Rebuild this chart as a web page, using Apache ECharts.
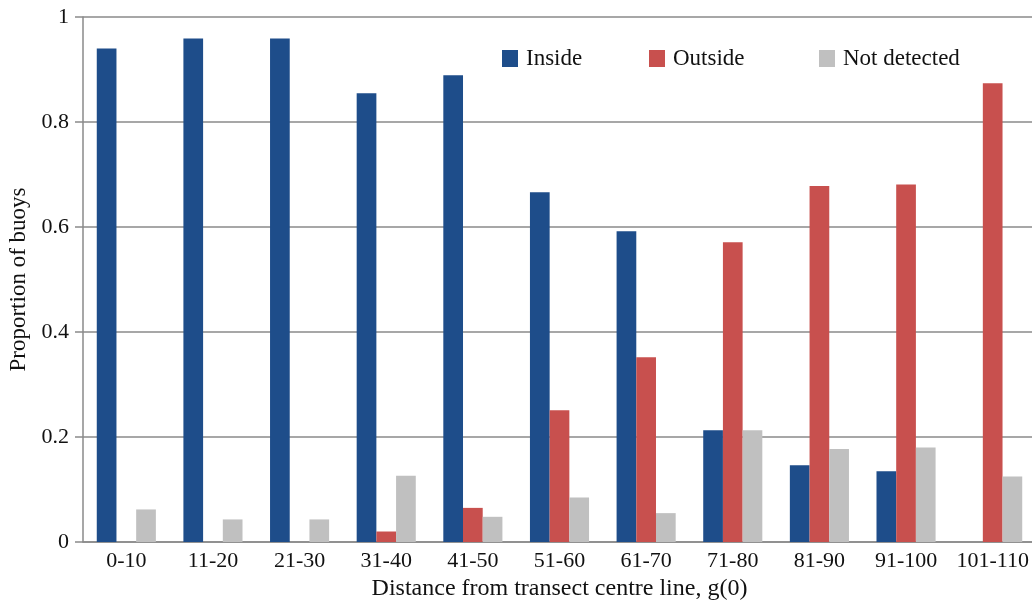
<!DOCTYPE html>
<html>
<head>
<meta charset="utf-8">
<script src="https://cdn.jsdelivr.net/npm/echarts@6/dist/echarts.min.js"></script>
<style>
  html, body { margin: 0; padding: 0; background: #fff; }
  #main { width: 1032px; height: 602px; }
</style>
</head>
<body>
<div id="main"></div>
<script>
var categories = ['0-10', '11-20', '21-30', '31-40', '41-50', '51-60', '61-70', '71-80', '81-90', '91-100', '101-110'];
var inside = [0.940, 0.959, 0.959, 0.855, 0.889, 0.666, 0.592, 0.213, 0.146, 0.135, 0];
var outside = [0, 0, 0, 0.020, 0.065, 0.251, 0.352, 0.571, 0.678, 0.681, 0.874];
var notDetected = [0.062, 0.043, 0.043, 0.126, 0.048, 0.085, 0.055, 0.213, 0.177, 0.180, 0.125];
var yTicks = [0, 0.2, 0.4, 0.6, 0.8, 1];

var chart = echarts.init(document.getElementById('main'));
var font = '"Liberation Serif", "DejaVu Serif", serif';

// one legend per series so each entry sits where it does in the figure
function legendAt(name, left) {
    return {
        data: [name],
        left: left,
        top: 42,
        itemWidth: 16,
        itemHeight: 17,
        icon: 'rect',
        selectedMode: false,
        textStyle: { fontFamily: font, fontSize: 23, color: '#111', padding: [0, 0, 0, 3] }
    };
}

var option = {
    color: ['#1e4d8a', '#c8504e', '#c0c0c0'],
    textStyle: { fontFamily: font },
    animation: false,
    legend: [
        legendAt('Inside', 497),
        legendAt('Outside', 644),
        legendAt('Not detected', 814)
    ],
    grid: { left: 83, top: 17, width: 953, height: 525, outerBoundsMode: 'none' },
    xAxis: {
        type: 'category',
        data: categories,
        name: 'Distance from transect centre line, g(0)',
        nameLocation: 'middle',
        nameGap: 34,
        nameTextStyle: { fontFamily: font, fontSize: 24, color: '#111' },
        axisLine: { lineStyle: { color: '#8a8a8a', width: 1.5 } },
        axisTick: { show: false },
        axisLabel: { fontFamily: font, fontSize: 22, color: '#111', margin: 8, interval: 0 }
    },
    yAxis: {
        type: 'value',
        min: 0,
        max: 1,
        interval: 0.2,
        name: 'Proportion of buoys',
        nameLocation: 'middle',
        nameGap: 50,
        nameTextStyle: { fontFamily: font, fontSize: 23, color: '#111' },
        axisLine: { show: true, lineStyle: { color: '#8a8a8a', width: 1.5 } },
        axisTick: { show: true, length: 8, lineStyle: { color: '#8a8a8a', width: 1.5 } },
        axisLabel: {
            fontFamily: font, fontSize: 22, color: '#111', margin: 14,
            formatter: function (v) {
                var t = yTicks.filter(function (x) { return Math.abs(x - v) < 1e-6; });
                return t.length ? String(t[0]) : '';
            }
        },
        splitLine: { lineStyle: { color: '#8a8a8a', width: 1.5 } }
    },
    series: [
        { name: 'Inside', type: 'bar', data: inside, barWidth: 19.7, barGap: '0%' },
        { name: 'Outside', type: 'bar', data: outside, barWidth: 19.7, barGap: '0%' },
        { name: 'Not detected', type: 'bar', data: notDetected, barWidth: 19.7, barGap: '0%' }
    ]
};
chart.setOption(option);
</script>
</body>
</html>
